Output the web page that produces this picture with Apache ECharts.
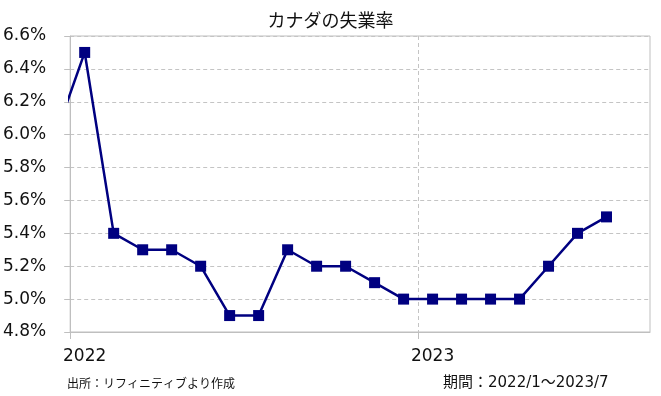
<!DOCTYPE html>
<html>
<head>
<meta charset="utf-8">
<script src="https://cdn.jsdelivr.net/npm/echarts@6/dist/echarts.min.js"></script>
<style>
  html, body { margin: 0; padding: 0; background: #fff; }
  #chart { width: 661px; height: 396px; }
</style>
</head>
<body>
<div id="chart"></div>
<script>
// 月次データ（2021/12 は左端で切れて見える分）
const months = ['2021/12', '2022/1', '2022/2', '2022/3', '2022/4', '2022/5', '2022/6', '2022/7',
    '2022/8', '2022/9', '2022/10', '2022/11', '2022/12', '2023/1', '2023/2', '2023/3',
    '2023/4', '2023/5', '2023/6', '2023/7'];
const rates = [6.0, 6.5, 5.4, 5.3, 5.3, 5.2, 4.9, 4.9, 5.3, 5.2, 5.2, 5.1, 5.0,
    5.0, 5.0, 5.0, 5.0, 5.2, 5.4, 5.5];
// 横軸の枠（2022/1～2023/8）
const axisMonths = ['2022/1', '2022/2', '2022/3', '2022/4', '2022/5', '2022/6', '2022/7',
    '2022/8', '2022/9', '2022/10', '2022/11', '2022/12', '2023/1', '2023/2', '2023/3',
    '2023/4', '2023/5', '2023/6', '2023/7', '2023/8'];
const yTicks = { min: 4.8, max: 6.6, step: 0.2 };

const titleText = 'カナダの失業率';
const sourceText = '出所：リフィニティブより作成';
const periodText = '期間：2022/1～2023/7';

const numFont = "'DejaVu Sans', 'Noto Sans CJK JP', sans-serif";
const jpFont = "'Noto Sans CJK JP', sans-serif";

// 月の位置 = axisMonths の何番目か（2021/12 は -1）
const seriesData = months.map((m, i) => [axisMonths.indexOf(m), rates[i]]);

// 表示用の軸：各月の境界と中心を半月刻みで並べる
const slots = [];
axisMonths.forEach(m => {
    slots.push('|' + m);
    slots.push(m);
});
slots.push('|end');

const isYearStart = v => v.startsWith('|') && v.endsWith('/1');

const chart = echarts.init(document.getElementById('chart'));
chart.setOption({
    animation: false,
    title: [
        {
            text: titleText, left: 'center', top: 6,
            textStyle: { fontFamily: jpFont, fontSize: 18, fontWeight: 'normal', color: '#111' }
        },
        {
            text: sourceText, left: 67, top: 377, padding: 0,
            textStyle: { fontFamily: jpFont, fontSize: 12, fontWeight: 'normal', color: '#111' }
        },
        {
            text: periodText, left: 443, top: 376, padding: 0,
            textStyle: { fontFamily: numFont, fontSize: 15, fontWeight: 'normal', color: '#111' }
        }
    ],
    grid: {
        left: 69, right: 11, top: 36, bottom: 64,
        show: true, borderColor: '#bfbfbf', borderWidth: 1
    },
    xAxis: [
        {
            type: 'value', min: -0.5, max: axisMonths.length - 0.5, show: false
        },
        {
            type: 'category', data: slots, boundaryGap: false, position: 'bottom',
            axisLine: { show: true, onZero: false, lineStyle: { color: '#bfbfbf', width: 1 } },
            axisTick: {
                show: true, length: 7,
                interval: (i, v) => isYearStart(v),
                lineStyle: { color: '#bfbfbf' }
            },
            axisLabel: {
                interval: (i, v) => !v.startsWith('|') && v.endsWith('/1'),
                formatter: v => v.startsWith('|') ? '' : v.split('/')[0],
                margin: 16, fontFamily: numFont, fontSize: 17, color: '#111'
            },
            splitLine: {
                show: true,
                interval: (i, v) => isYearStart(v),
                lineStyle: { color: '#c4c4c4', type: [4, 3] }
            }
        }
    ],
    yAxis: {
        type: 'value', min: yTicks.min, max: yTicks.max, interval: yTicks.step,
        axisLine: { show: true, onZero: false, lineStyle: { color: '#bfbfbf' } },
        axisTick: { show: true, length: 6, lineStyle: { color: '#bfbfbf' } },
        axisLabel: {
            formatter: v => v.toFixed(1) + '%',
            margin: 24, fontFamily: numFont, fontSize: 17, color: '#111'
        },
        splitLine: { show: true, lineStyle: { color: '#c4c4c4', type: [4, 3] } }
    },
    series: [{
        type: 'line',
        xAxisIndex: 0,
        data: seriesData,
        symbol: 'rect',
        symbolSize: 11,
        showAllSymbol: true,
        clip: true,
        lineStyle: { color: '#000080', width: 2.5 },
        itemStyle: { color: '#000080' }
    }]
});
</script>
</body>
</html>
